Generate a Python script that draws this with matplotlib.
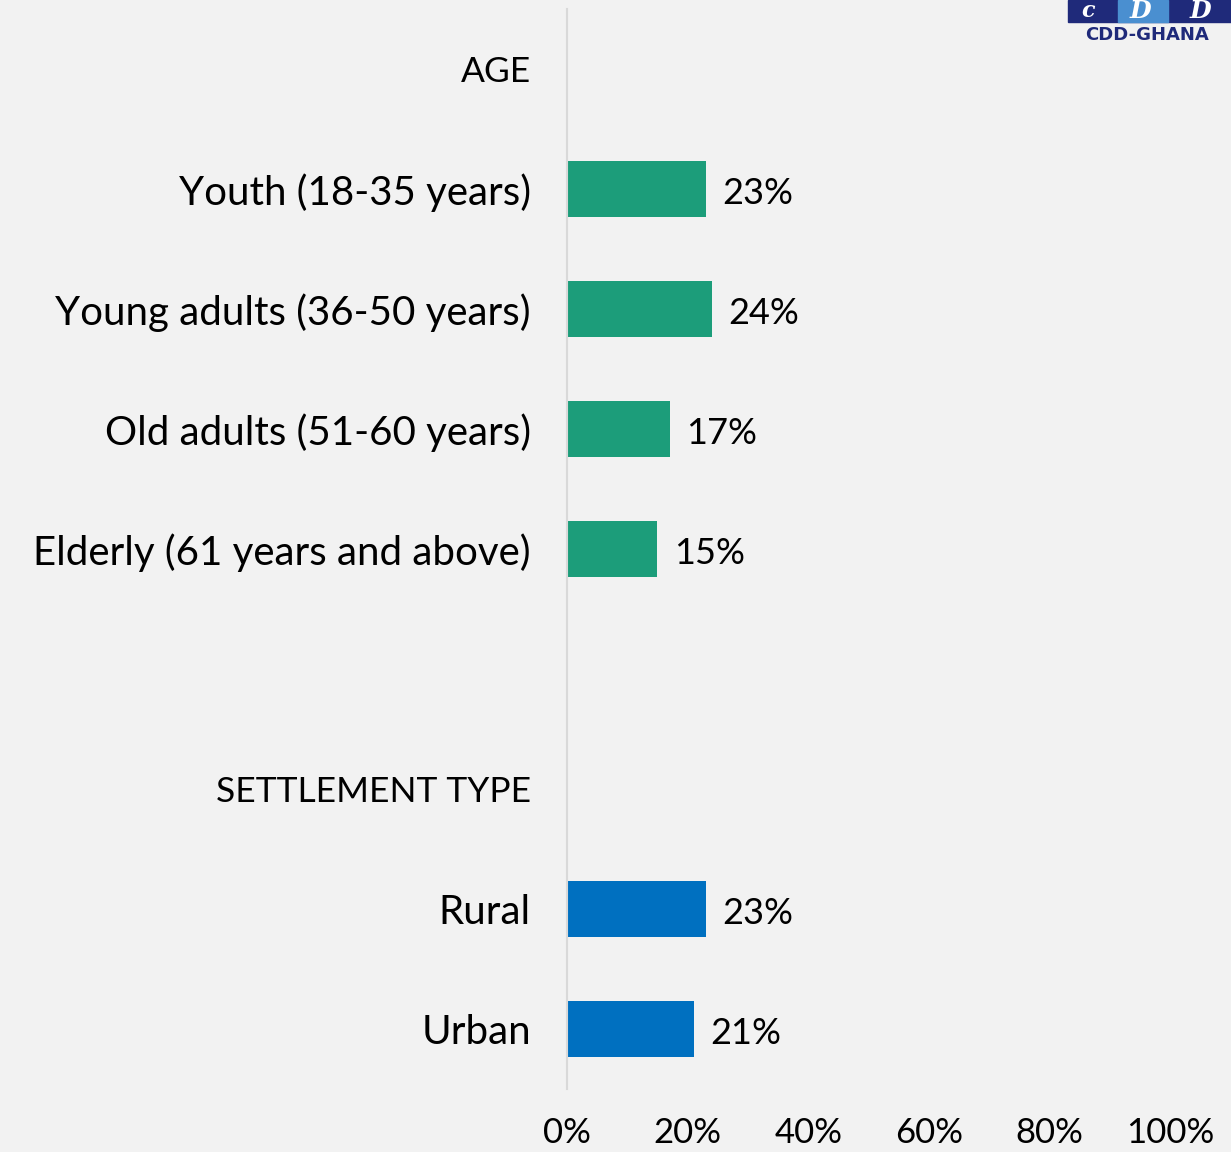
import matplotlib.pyplot as plt
from matplotlib.patches import Rectangle

plt.rcParams['font.family'] = ['Lato', 'DejaVu Sans']

# rows top to bottom; headings and the gap row carry no value
labels = ["AGE", "Youth (18-35 years)", "Young adults (36-50 years)",
          "Old adults (51-60 years)", "Elderly (61 years and above)", "",
          "SETTLEMENT TYPE", "Rural", "Urban"]
values = [None, 23, 24, 17, 15, None, None, 23, 21]
groups = [None, "age", "age", "age", "age", None, None, "settle", "settle"]
colors = {"age": "#1c9d7a", "settle": "#0070c0"}
ticks = [0, 20, 40, 60, 80, 100]

bg = "#f2f2f2"
fig = plt.figure(figsize=(12.31, 11.52), dpi=100, facecolor=bg)
ax = fig.add_axes([567 / 1231, 1 - 1089 / 1152, (1170 - 567) / 1231, 1080 / 1152])
ax.set_facecolor(bg)

ypos = list(range(len(labels)))
for y, v, g in zip(ypos, values, groups):
    if v is None:
        continue
    ax.barh(y, v, height=0.47, color=colors[g])
    ax.annotate(f"{v}%", (v, y), xytext=(12, -3), textcoords="offset points",
                ha="left", va="center", fontsize=26, color="black")

ax.set_xlim(0, 100)
ax.set_ylim(len(labels) - 0.5, -0.5)
ax.set_yticks(ypos)
ax.set_yticklabels(labels, fontsize=29)
# section headings are set a bit smaller
for lbl in ax.get_yticklabels():
    if lbl.get_text().isupper():
        lbl.set_fontsize(25.5)
ax.set_xticks(ticks)
ax.set_xticklabels([f"{t}%" for t in ticks], fontsize=25)
ax.tick_params(axis="both", length=0)
ax.tick_params(axis="y", pad=26)
ax.tick_params(axis="x", pad=20)
for side in ["top", "right", "bottom"]:
    ax.spines[side].set_visible(False)
ax.spines["left"].set_color("#d9d9d9")
ax.spines["left"].set_linewidth(1.5)

# logo in the corner
fig.patches.append(Rectangle((1068 / 1231, 1 - 22 / 1152), 163 / 1231, 22 / 1152,
                             transform=fig.transFigure, color="#1f2a7a", zorder=5))
fig.patches.append(Rectangle((1118 / 1231, 1 - 22 / 1152), 50 / 1231, 22 / 1152,
                             transform=fig.transFigure, color="#4a8fd0", zorder=6))
fig.text(1088 / 1231, 1 - 11 / 1152, "c", color="white", fontsize=16,
         fontweight="bold", fontstyle="italic", ha="center", va="center", zorder=7,
         family="DejaVu Serif")
fig.text(1140 / 1231, 1 - 11 / 1152, "D", color="white", fontsize=18,
         fontweight="bold", fontstyle="italic", ha="center", va="center", zorder=7,
         family="DejaVu Serif")
fig.text(1200 / 1231, 1 - 11 / 1152, "D", color="white", fontsize=18,
         fontweight="bold", fontstyle="italic", ha="center", va="center", zorder=7,
         family="DejaVu Serif")
fig.text(1085 / 1231, 1 - 35 / 1152, "CDD-GHANA", color="#1f2a7a", fontsize=13,
         fontweight="bold", ha="left", va="center", family="DejaVu Sans")

fig.savefig("out.png", dpi=100, facecolor=bg)
